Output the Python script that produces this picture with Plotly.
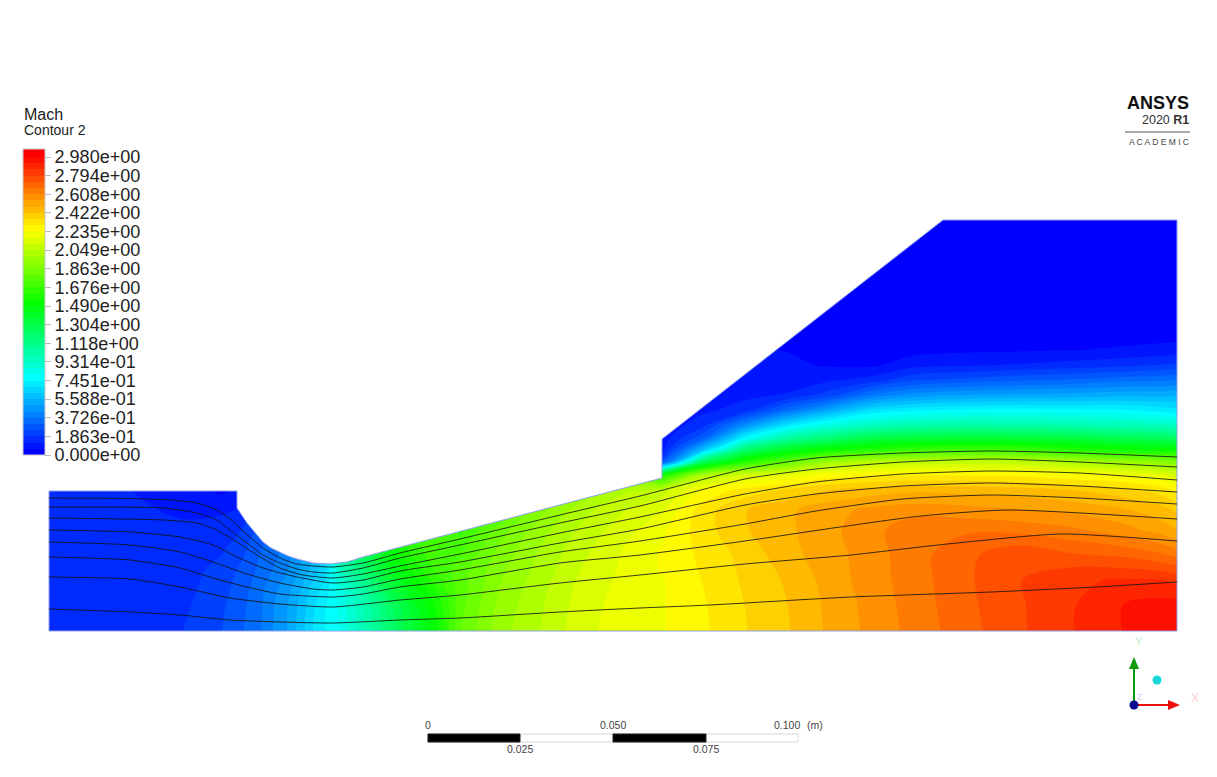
import numpy as np
import plotly.graph_objects as go

W, H = 1217, 777
M_PER_PX = 0.1 / 370  # scale bar: 0.100 m over 370 picture pixels
X0, Y0 = 49, 631      # lower left corner of the domain in the picture

# legend
mach_ticks = [2.980, 2.794, 2.608, 2.422, 2.235, 2.049, 1.863, 1.676, 1.490,
              1.304, 1.118, 0.9314, 0.7451, 0.5588, 0.3726, 0.1863, 0.0]
mach_tick_text = ["2.980e+00", "2.794e+00", "2.608e+00", "2.422e+00", "2.235e+00",
                  "2.049e+00", "1.863e+00", "1.676e+00", "1.490e+00", "1.304e+00",
                  "1.118e+00", "9.314e-01", "7.451e-01", "5.588e-01", "3.726e-01",
                  "1.863e-01", "0.000e+00"]

# geometry
wall_x = [237, 247, 255, 263, 271, 280, 288, 297, 305, 313, 330, 347, 363, 662]
wall_y = [508, 523, 533, 542, 548, 552, 556, 559, 561, 563, 564, 562, 557, 478]

# Mach in the nozzle part, one line per station, bottom to top
nozzle_x = [49, 130, 183, 222, 243, 261, 273, 287, 296, 305, 313, 325, 340, 355, 372, 390,
            412, 435, 460, 500, 540, 580, 620, 662]
nozzle_y = [631, 610, 590, 570, 550, 530, 510, 491, 476]
nozzle_mach = [
    [.150, .150, .150, .150, .150, .145, .140, .130, .130],
    [.155, .155, .155, .150, .150, .145, .135, .125, .120],
    [.186, .175, .165, .155, .145, .135, .115, .100, .090],
    [.248, .240, .225, .210, .180, .150, .115, .050, .040],
    [.310, .300, .285, .265, .235, .190, .130, .100, .090],
    [.372, .365, .360, .330, .310, .280, .250, .220, .200],
    [.434, .430, .415, .375, .330, .310, .290, .270, .250],
    [.497, .495, .475, .430, .410, .400, .380, .360, .350],
    [.559, .550, .525, .480, .460, .450, .440, .430, .420],
    [.621, .615, .585, .530, .500, .490, .480, .470, .460],
    [.683, .675, .645, .585, .550, .520, .500, .490, .480],
    [.745, .740, .710, .660, .650, .630, .620, .610, .600],
    [.81, .82, .84, .95, 1.00, 1.00, 1.00, 1.00, 1.00],
    [.92, .93, .97, 1.10, 1.18, 1.18, 1.18, 1.18, 1.18],
    [1.05, 1.06, 1.12, 1.26, 1.34, 1.34, 1.34, 1.34, 1.34],
    [1.20, 1.21, 1.30, 1.42, 1.50, 1.50, 1.50, 1.50, 1.50],
    [1.36, 1.38, 1.46, 1.56, 1.64, 1.66, 1.66, 1.66, 1.66],
    [1.52, 1.54, 1.60, 1.68, 1.72, 1.74, 1.74, 1.74, 1.74],
    [1.80, 1.78, 1.77, 1.77, 1.72, 1.66, 1.60, 1.60, 1.60],
    [1.96, 1.95, 1.93, 1.91, 1.88, 1.83, 1.72, 1.70, 1.70],
    [2.05, 2.04, 2.03, 2.01, 1.99, 1.96, 1.90, 1.75, 1.70],
    [2.15, 2.14, 2.13, 2.11, 2.09, 2.06, 2.02, 1.92, 1.85],
    [2.20, 2.20, 2.19, 2.18, 2.17, 2.14, 2.10, 2.03, 1.90],
    [2.23, 2.23, 2.23, 2.24, 2.24, 2.22, 2.17, 2.08, 1.60],
]

# Mach in the outlet part, one line per station, bottom to top
outlet_x = [662, 703, 745, 787, 830, 872, 914, 966, 1019, 1072, 1124, 1160, 1177]
outlet_y = [631, 605, 580, 555, 530, 510, 490, 475, 462, 450, 438, 425, 410, 395, 380, 365, 350, 335, 220]
outlet_mach = [
    [2.23, 2.23, 2.23, 2.24, 2.22, 2.17, 2.08, 1.55, .22, .10, .08, .08, .08, .08, .08, .08, .08, .08, .08],
    [2.285, 2.29, 2.30, 2.314, 2.333, 2.33, 2.24, 2.02, 1.25, .60, .30, .16, .11, .09, .08, .08, .07, .06, .05],
    [2.355, 2.36, 2.37, 2.38, 2.415, 2.417, 2.32, 2.13, 1.62, 1.20, .76, .44, .15, .11, .09, .08, .07, .06, .05],
    [2.415, 2.42, 2.43, 2.46, 2.47, 2.47, 2.37, 2.18, 1.80, 1.42, 1.05, .70, .34, .13, .09, .075, .06, .05, .04],
    [2.497, 2.50, 2.51, 2.52, 2.53, 2.525, 2.42, 2.26, 1.98, 1.55, 1.18, .86, .52, .22, .115, .055, .04, .03, .03],
    [2.565, 2.57, 2.58, 2.58, 2.585, 2.56, 2.45, 2.28, 2.05, 1.62, 1.30, .95, .68, .38, .15, .05, .035, .03, .03],
    [2.63, 2.635, 2.64, 2.645, 2.655, 2.58, 2.47, 2.29, 2.07, 1.68, 1.34, 1.00, .73, .46, .24, .10, .04, .03, .03],
    [2.708, 2.715, 2.72, 2.715, 2.66, 2.57, 2.46, 2.29, 2.08, 1.70, 1.36, 1.03, .76, .50, .27, .115, .05, .03, .03],
    [2.783, 2.785, 2.79, 2.78, 2.65, 2.55, 2.45, 2.28, 2.07, 1.69, 1.35, 1.02, .77, .51, .30, .13, .055, .03, .03],
    [2.853, 2.85, 2.85, 2.74, 2.62, 2.53, 2.42, 2.25, 2.02, 1.62, 1.32, 1.00, .76, .52, .32, .15, .06, .035, .03],
    [2.92, 2.92, 2.86, 2.72, 2.57, 2.49, 2.38, 2.22, 1.96, 1.56, 1.28, .97, .75, .54, .35, .17, .07, .04, .03],
    [2.945, 2.94, 2.86, 2.68, 2.52, 2.45, 2.33, 2.18, 1.92, 1.54, 1.25, .95, .72, .54, .36, .19, .08, .04, .03],
    [2.97, 2.94, 2.84, 2.65, 2.48, 2.41, 2.28, 2.13, 1.87, 1.52, 1.22, .93, .70, .55, .37, .20, .09, .04, .03],
]

# the eight streamlines
line1_x = [49, 130, 170, 197, 217, 230, 243, 263, 280, 297, 313, 333, 363, 400, 460, 560, 640, 745, 816, 903, 991, 1079, 1177]
line1_y = [498, 498.5, 500, 503, 510, 519, 531, 548, 558, 564, 566, 567, 563, 553, 539, 515, 496, 469, 458, 453, 451, 453, 457]
line2_x = [49, 163, 197, 217, 230, 247, 263, 280, 297, 313, 333, 363, 400, 460, 560, 640, 745, 816, 903, 991, 1079, 1177]
line2_y = [507, 508, 513, 520, 530, 543, 555, 563, 569, 572, 573, 568, 558, 545, 523, 506, 479, 469, 462, 459, 462, 467]
line3_x = [49, 163, 197, 217, 237, 257, 280, 303, 333, 363, 400, 460, 560, 640, 745, 816, 903, 991, 1079, 1177]
line3_y = [518, 520, 523, 530, 542, 555, 568, 575, 578, 574, 566, 554, 533, 517, 494, 482, 474, 471, 473, 480]
line4_x = [49, 130, 180, 213, 237, 263, 297, 333, 363, 400, 460, 560, 640, 745, 816, 903, 991, 1079, 1177]
line4_y = [530, 532, 537, 545, 557, 568, 577, 583, 580, 571, 562, 543, 529, 505, 494, 486, 483, 486, 492]
line5_x = [49, 130, 180, 213, 247, 280, 313, 333, 363, 400, 460, 560, 640, 745, 816, 903, 991, 1079, 1177]
line5_y = [542, 545, 552, 562, 574, 583, 589, 590, 587, 579, 570, 552, 541, 524, 511, 499, 495, 498, 504]
line6_x = [49, 130, 180, 213, 247, 280, 333, 363, 400, 460, 560, 640, 745, 840, 921, 1009, 1177]
line6_y = [557, 560, 568, 578, 587, 594, 597, 594, 587, 580, 563, 555, 541, 527, 516, 510, 519]
line7_x = [49, 130, 180, 230, 280, 333, 400, 460, 560, 640, 745, 851, 938, 1061, 1177]
line7_y = [577, 579, 587, 598, 604, 607, 600, 595, 583, 575, 564, 555, 545, 534, 541]
line8_x = [49, 130, 180, 230, 280, 333, 400, 460, 560, 640, 710, 851, 991, 1096, 1177]
line8_y = [609, 612, 615, 620, 622, 623, 620, 618, 612, 608, 605, 597, 592, 587, 582]
streamlines = [(line1_x, line1_y), (line2_x, line2_y), (line3_x, line3_y), (line4_x, line4_y),
               (line5_x, line5_y), (line6_x, line6_y), (line7_x, line7_y), (line8_x, line8_y)]


def mx(px):
    return (np.array(px, dtype=float) - X0) * M_PER_PX


def my(py):
    return (Y0 - np.array(py, dtype=float)) * M_PER_PX


def px(x):
    return x / W


def py(y):
    return 1 - y / H


# fluent rainbow, 48 bands; the legend runs a little past the 2.98 label
# each fluent band takes the colour of its lower level, plotly uses the middle, hence the shift
band = 2.98 / 48
bar_top = 3.06
shift = band / 2
colorscale = [[0, "rgb(0,0,255)"], [shift / bar_top, "rgb(0,0,255)"],
              [(0.745 + shift) / bar_top, "rgb(0,255,255)"], [(1.49 + shift) / bar_top, "rgb(0,255,0)"],
              [(2.235 + shift) / bar_top, "rgb(255,255,0)"], [(2.98 + shift) / bar_top, "rgb(255,0,0)"],
              [1, "rgb(255,0,0)"]]
contour_style = dict(colorscale=colorscale, zmin=0, zmax=bar_top, line_width=0,
                     contours=dict(coloring="fill", start=0, end=band * 50, size=band),
                     hoverinfo="skip")

fig = go.Figure()
fig.add_trace(go.Contour(x=mx(nozzle_x), y=my(nozzle_y), z=np.array(nozzle_mach).T, showscale=True,
                         colorbar=dict(x=px(23), xanchor="left", xpad=0, y=py(149), yanchor="top", ypad=0,
                                       lenmode="pixels", len=306, thicknessmode="pixels", thickness=22,
                                       outlinecolor="#c8c8c8", outlinewidth=1, borderwidth=0,
                                       tickmode="array", tickvals=mach_ticks, ticktext=mach_tick_text,
                                       ticks="outside", ticklen=6, tickcolor="#bbbbbb", tickwidth=1,
                                       tickfont=dict(family="Liberation Sans", size=18, color="#222222")),
                         **contour_style))
fig.add_trace(go.Contour(x=mx(outlet_x), y=my(outlet_y), z=np.array(outlet_mach).T, showscale=False,
                         **contour_style))

# white over everything outside the walls
mask1_x = [49, 49, 237] + wall_x + [662, 49]
mask1_y = [476, 491, 491] + wall_y + [476, 476]
mask2_x = [662, 943, 662, 662]
mask2_y = [439, 220, 220, 439]
for mx_, my_ in [(mask1_x, mask1_y), (mask2_x, mask2_y)]:
    fig.add_trace(go.Scatter(x=mx(mx_), y=my(my_), mode="lines", fill="toself", fillcolor="white",
                             line=dict(width=0), hoverinfo="skip", showlegend=False))

# domain edge
edge_x = [49, 49, 237] + wall_x + [662, 943, 1177, 1177, 49]
edge_y = [631, 491, 491] + wall_y + [439, 220, 220, 631, 631]
fig.add_trace(go.Scatter(x=mx(edge_x), y=my(edge_y), mode="lines", line=dict(color="#8f9fe8", width=1),
                         hoverinfo="skip", showlegend=False))

for sx, sy in streamlines:
    fig.add_trace(go.Scatter(x=mx(sx), y=my(sy), mode="lines",
                             line=dict(color="rgba(20,20,20,0.85)", width=1, shape="spline", smoothing=0.6),
                             hoverinfo="skip", showlegend=False))


def text(x, y, s, size, color="#222222", anchor="left", family="Liberation Sans"):
    return dict(x=px(x), y=py(y), xref="paper", yref="paper", text=s, showarrow=False, xanchor=anchor,
                yanchor="middle", font=dict(family=family, size=size, color=color), borderpad=0)


annotations = [
    text(23, 114, "Mach", 16),
    text(23, 130, "Contour 2", 14),
    text(1190, 103, "<b>ANSYS</b>", 18, "#111111", "right"),
    text(1190, 120, "2020 <b>R1</b>", 12.5, "#333333", "right"),
    text(1190, 142, "A C A D E M I C", 8.5, "#444444", "right"),
    text(428, 725, "0", 10.5, "#444444", "center"),
    text(613, 725, "0.050", 10.5, "#444444", "center"),
    text(787, 725, "0.100", 10.5, "#444444", "center"),
    text(815, 725, "(m)", 10.5, "#444444", "center"),
    text(520, 749, "0.025", 10.5, "#444444", "center"),
    text(706, 749, "0.075", 10.5, "#444444", "center"),
    text(1139, 641, "Y", 11, "#c8ecc8", "center"),
    text(1195, 698, "X", 12, "#ffd0d0", "center"),
    text(1140, 697, "Z", 9, "#d0d0ff", "center"),
]


def rect(x0, y0, x1, y1, fill, line="rgba(0,0,0,0)"):
    return dict(type="rect", xref="paper", yref="paper", x0=px(x0), x1=px(x1), y0=py(y0), y1=py(y1),
                fillcolor=fill, line=dict(color=line, width=1))


def ball(x, y, r, fill):
    return dict(type="circle", xref="paper", yref="paper", x0=px(x - r), x1=px(x + r), y0=py(y - r), y1=py(y + r),
                fillcolor=fill, line=dict(width=0))


def tri(p1, p2, p3, fill):
    path = "M %f %f L %f %f L %f %f Z" % (px(p1[0]), py(p1[1]), px(p2[0]), py(p2[1]), px(p3[0]), py(p3[1]))
    return dict(type="path", xref="paper", yref="paper", path=path, fillcolor=fill, line=dict(width=0))


shapes = [
    # logo rule
    dict(type="line", xref="paper", yref="paper", x0=px(1125), x1=px(1190), y0=py(132), y1=py(132),
         line=dict(color="#555555", width=1)),
    # scale bar
    rect(428, 734, 798, 742, "white", "#d8d8d8"),
    rect(428, 734, 520, 742, "black", "#222222"),
    rect(613, 734, 706, 742, "black", "#222222"),
    # triad
    rect(1133, 668, 1135, 705, "#0a9a0a"),
    tri((1134, 657), (1129, 669), (1139, 669), "#0a9a0a"),
    rect(1134, 704, 1170, 706, "#ee1111"),
    tri((1180, 705), (1168, 700), (1168, 710), "#ee1111"),
    ball(1134, 705, 4.5, "#0a0a90"),
    ball(1157, 680, 4.5, "#18d8d8"),
]

fig.update_layout(width=W, height=H, autosize=False, margin=dict(l=0, r=0, t=0, b=0),
                  paper_bgcolor="white", plot_bgcolor="white", showlegend=False,
                  xaxis=dict(visible=False, range=[(0 - X0) * M_PER_PX, (W - X0) * M_PER_PX], fixedrange=True),
                  yaxis=dict(visible=False, range=[(Y0 - H) * M_PER_PX, Y0 * M_PER_PX], fixedrange=True),
                  annotations=annotations, shapes=shapes)
# the page's default body margin would push the picture 8 px down and right
fig.write_html("out.html", config=dict(displayModeBar=False), post_script="document.body.style.margin='0';")
